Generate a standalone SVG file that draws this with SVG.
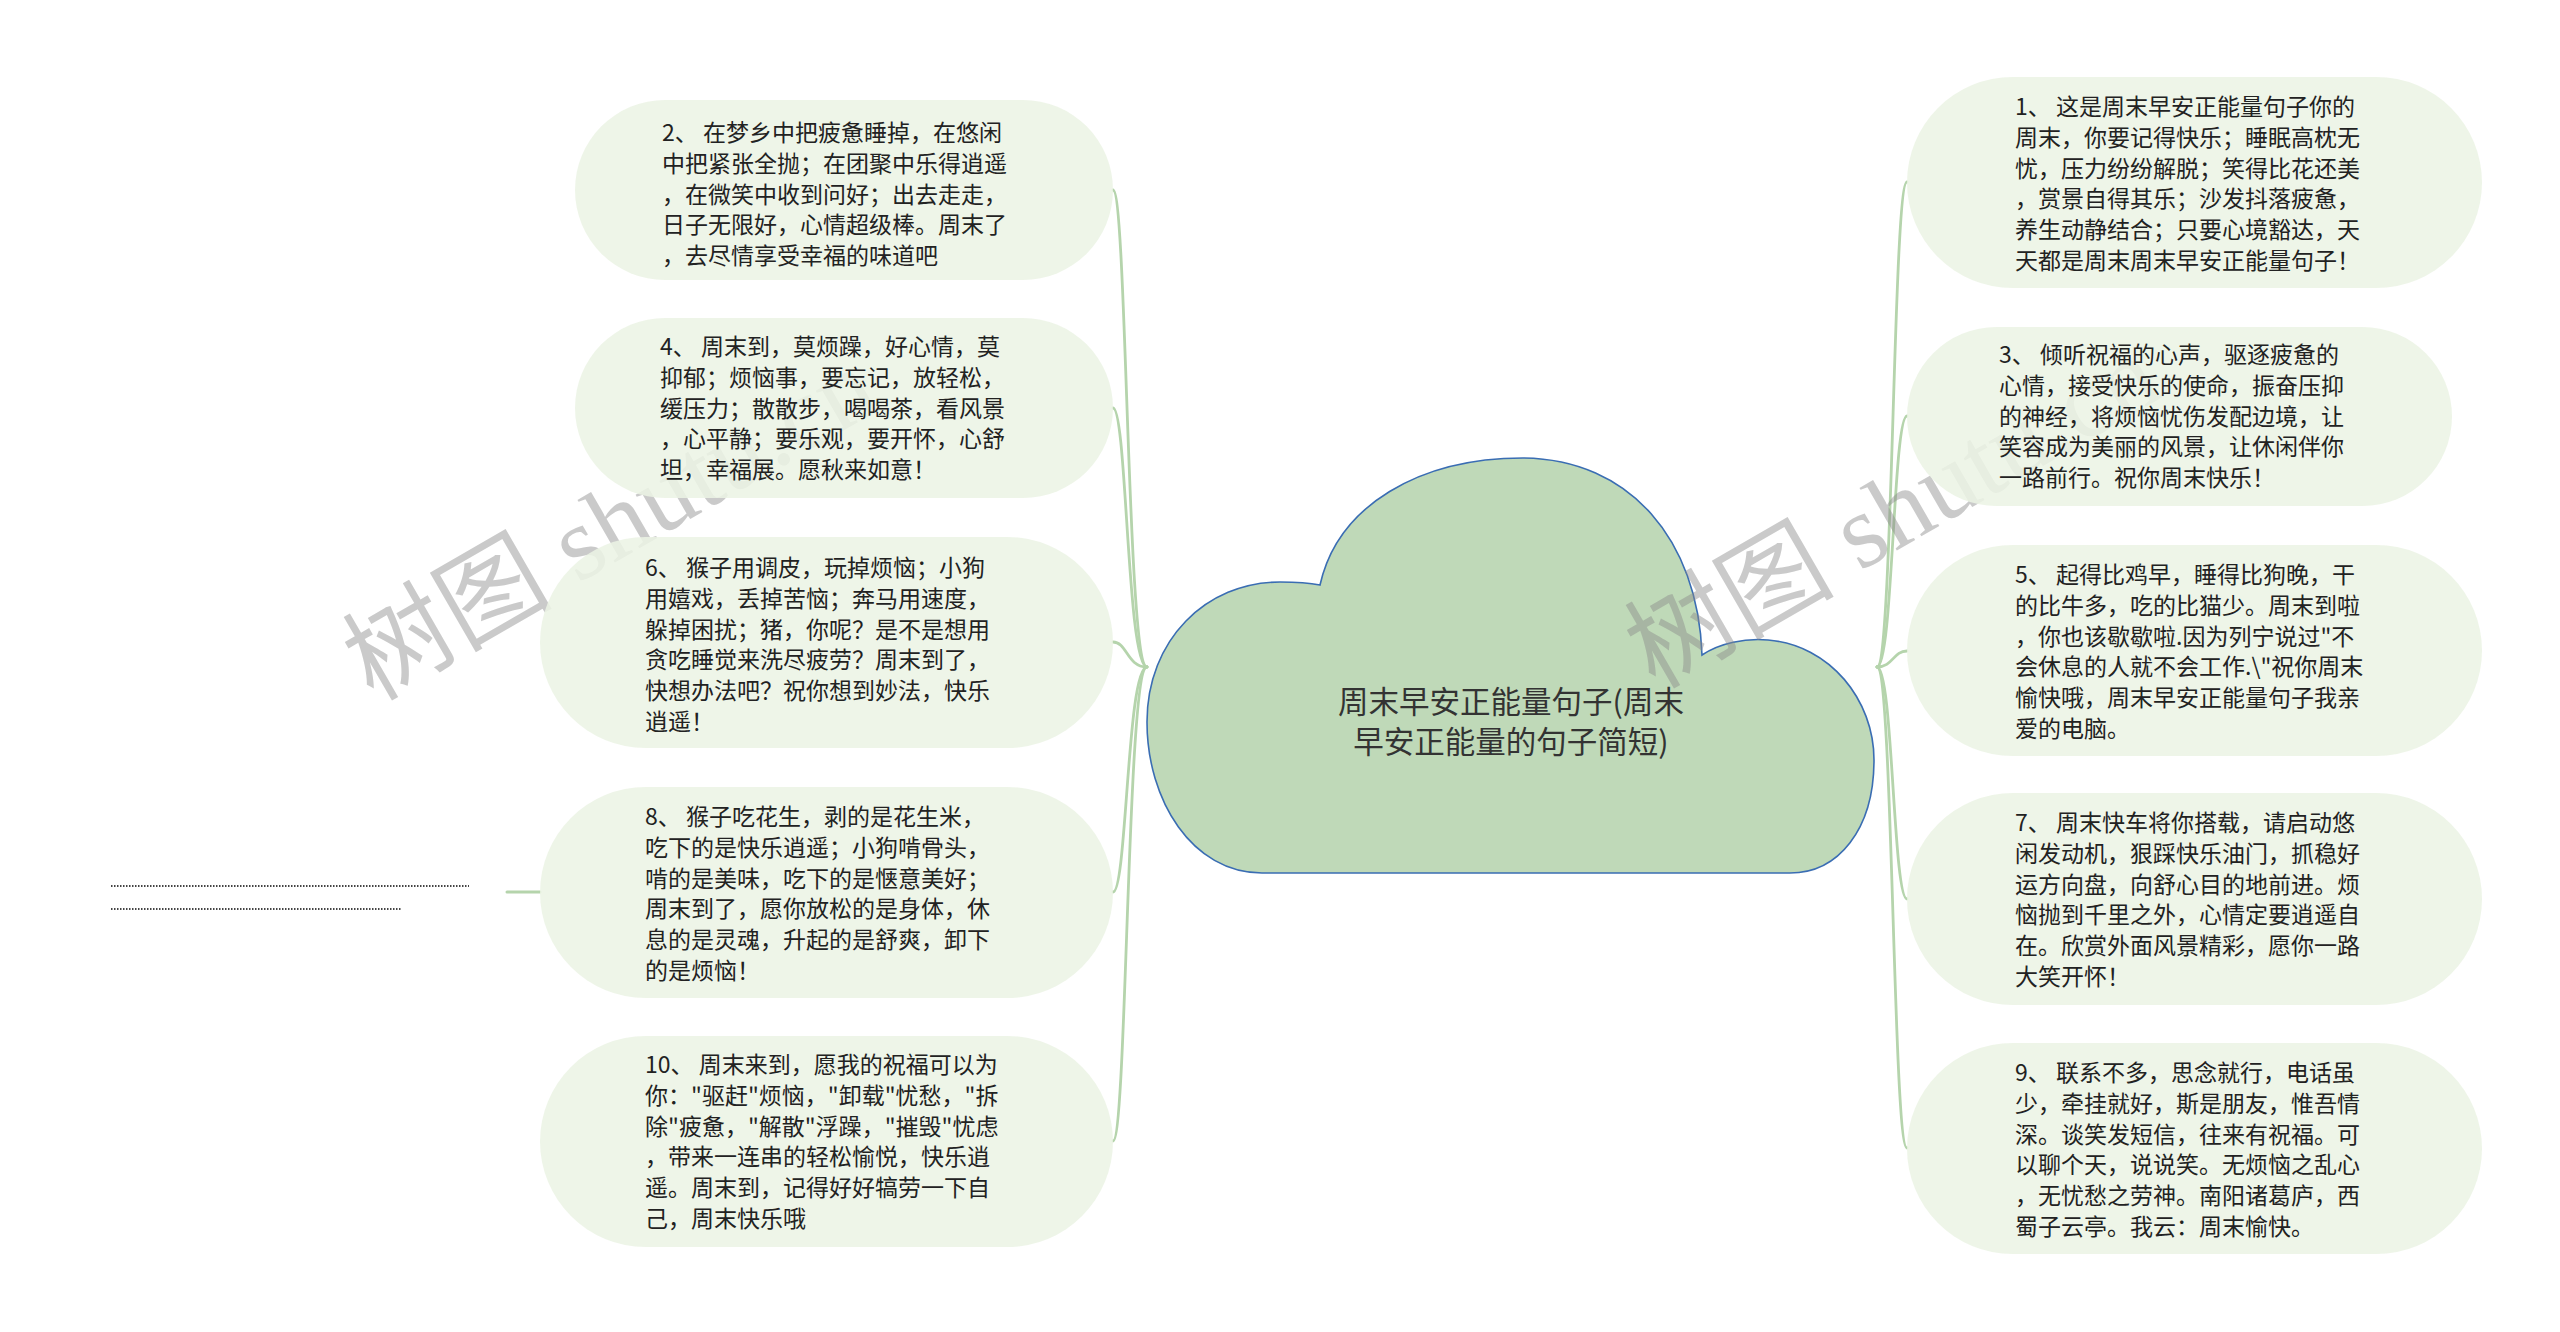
<svg xmlns="http://www.w3.org/2000/svg" width="2560" height="1332" viewBox="0 0 2560 1332">
<style>
.node rect{fill:#ebf3e4;fill-opacity:0.86;stroke:none}
.node text{font-family:"Noto Sans CJK SC","Noto Sans",sans-serif;font-size:23px;fill:#222}
.conn path{fill:none;stroke:#b5d4ac;stroke-width:2.8;stroke-linecap:round}
.wm{font-family:"Liberation Serif","Noto Sans CJK SC",serif;font-size:105px;fill:#8a8a8a;fill-opacity:0.45}
.dots line{stroke:#444;stroke-width:2;stroke-dasharray:1.5 1.5}
</style>
<rect width="2560" height="1332" fill="#ffffff"/>

<g id="connectors" class="conn">
  <path d="M1147,667 C1127,667 1127,190 1113,190"/>
  <path d="M1147,667 C1127,667 1127,408 1113,408"/>
  <path d="M1147,667 C1127,667 1127,642 1113,642"/>
  <path d="M1147,667 C1127,667 1127,892 1113,892"/>
  <path d="M1147,667 C1127,667 1127,1141 1113,1141"/>
  <path d="M1877,667 C1893,667 1893,182 1907,182"/>
  <path d="M1877,667 C1893,667 1893,416 1907,416"/>
  <path d="M1877,667 C1893,667 1893,651 1907,651"/>
  <path d="M1877,667 C1893,667 1893,899 1907,899"/>
  <path d="M1877,667 C1893,667 1893,1148 1907,1148"/>
  <path d="M540,892 L507,892" style="stroke-width:3"/>
</g>

<g id="root">
  <path d="M1320,585 C1338,505 1420,458 1523,458 C1630,459 1698,540 1702,655 C1720,643 1745,638 1768,640 C1830,645 1874,700 1874,760 C1874,830 1838,873 1790,873 L1262,873 C1192,873 1147,800 1147,722 C1147,640 1206,582 1280,582 C1296,582 1310,583 1320,585 Z" fill="#bfd9b8" stroke="#3a6db3" stroke-width="1.6"/>
  <text font-family="Noto Sans CJK SC,Noto Sans,sans-serif" font-size="30.5" fill="#333" text-anchor="middle"><tspan x="1511" y="713">周末早安正能量句子(周末</tspan><tspan x="1511" y="753">早安正能量的句子简短)</tspan></text>
</g>

<g id="watermark">
  <text class="wm" transform="translate(373,702) rotate(-30)">树图 shutu.cn</text>
  <text class="wm" transform="translate(1655,690) rotate(-30)">树图 shutu.cn</text>
</g>

<g id="n2" class="node">
  <rect x="575" y="100" width="538" height="180" rx="90"/>
  <text><tspan x="662" y="141">2、 在梦乡中把疲惫睡掉，在悠闲</tspan><tspan x="662" dy="30.8">中把紧张全抛；在团聚中乐得逍遥</tspan><tspan x="662" dy="30.8">，在微笑中收到问好；出去走走，</tspan><tspan x="662" dy="30.8">日子无限好，心情超级棒。周末了</tspan><tspan x="662" dy="30.8">，去尽情享受幸福的味道吧</tspan></text>
</g>
<g id="n4" class="node">
  <rect x="575" y="318" width="538" height="180" rx="90"/>
  <text><tspan x="660" y="355">4、 周末到，莫烦躁，好心情，莫</tspan><tspan x="660" dy="30.8">抑郁；烦恼事，要忘记，放轻松，</tspan><tspan x="660" dy="30.8">缓压力；散散步，喝喝茶，看风景</tspan><tspan x="660" dy="30.8">，心平静；要乐观，要开怀，心舒</tspan><tspan x="660" dy="30.8">坦，幸福展。愿秋来如意！</tspan></text>
</g>
<g id="n6" class="node">
  <rect x="540" y="537" width="573" height="211" rx="105.5"/>
  <text><tspan x="645" y="576">6、 猴子用调皮，玩掉烦恼；小狗</tspan><tspan x="645" dy="30.8">用嬉戏，丢掉苦恼；奔马用速度，</tspan><tspan x="645" dy="30.8">躲掉困扰；猪，你呢？是不是想用</tspan><tspan x="645" dy="30.8">贪吃睡觉来洗尽疲劳？周末到了，</tspan><tspan x="645" dy="30.8">快想办法吧？祝你想到妙法，快乐</tspan><tspan x="645" dy="30.8">逍遥！</tspan></text>
</g>
<g id="n8" class="node">
  <rect x="540" y="787" width="573" height="211" rx="105.5"/>
  <text><tspan x="645" y="825">8、 猴子吃花生，剥的是花生米，</tspan><tspan x="645" dy="30.8">吃下的是快乐逍遥；小狗啃骨头，</tspan><tspan x="645" dy="30.8">啃的是美味，吃下的是惬意美好；</tspan><tspan x="645" dy="30.8">周末到了，愿你放松的是身体，休</tspan><tspan x="645" dy="30.8">息的是灵魂，升起的是舒爽，卸下</tspan><tspan x="645" dy="30.8">的是烦恼！</tspan></text>
</g>
<g id="n8child" class="dots">
  <line x1="111" y1="886" x2="469" y2="886"/>
  <line x1="111" y1="909" x2="402" y2="909"/>
</g>
<g id="n10" class="node">
  <rect x="540" y="1036" width="573" height="211" rx="105.5"/>
  <text><tspan x="645" y="1073">10、 周末来到，愿我的祝福可以为</tspan><tspan x="645" dy="30.8">你："驱赶"烦恼，"卸载"忧愁，"拆</tspan><tspan x="645" dy="30.8">除"疲惫，"解散"浮躁，"摧毁"忧虑</tspan><tspan x="645" dy="30.8">，带来一连串的轻松愉悦，快乐逍</tspan><tspan x="645" dy="30.8">遥。周末到，记得好好犒劳一下自</tspan><tspan x="645" dy="30.8">己，周末快乐哦</tspan></text>
</g>

<g id="n1" class="node">
  <rect x="1907" y="77" width="575" height="211" rx="105.5"/>
  <text><tspan x="2015" y="115">1、 这是周末早安正能量句子你的</tspan><tspan x="2015" dy="30.8">周末，你要记得快乐；睡眠高枕无</tspan><tspan x="2015" dy="30.8">忧，压力纷纷解脱；笑得比花还美</tspan><tspan x="2015" dy="30.8">，赏景自得其乐；沙发抖落疲惫，</tspan><tspan x="2015" dy="30.8">养生动静结合；只要心境豁达，天</tspan><tspan x="2015" dy="30.8">天都是周末周末早安正能量句子！</tspan></text>
</g>
<g id="n3" class="node">
  <rect x="1907" y="327" width="545" height="179" rx="89.5"/>
  <text><tspan x="1999" y="363">3、 倾听祝福的心声，驱逐疲惫的</tspan><tspan x="1999" dy="30.8">心情，接受快乐的使命，振奋压抑</tspan><tspan x="1999" dy="30.8">的神经，将烦恼忧伤发配边境，让</tspan><tspan x="1999" dy="30.8">笑容成为美丽的风景，让休闲伴你</tspan><tspan x="1999" dy="30.8">一路前行。祝你周末快乐！</tspan></text>
</g>
<g id="n5" class="node">
  <rect x="1907" y="545" width="575" height="211" rx="105.5"/>
  <text><tspan x="2015" y="583">5、 起得比鸡早，睡得比狗晚，干</tspan><tspan x="2015" dy="30.8">的比牛多，吃的比猫少。周末到啦</tspan><tspan x="2015" dy="30.8">，你也该歇歇啦.因为列宁说过"不</tspan><tspan x="2015" dy="30.8">会休息的人就不会工作.\"祝你周末</tspan><tspan x="2015" dy="30.8">愉快哦，周末早安正能量句子我亲</tspan><tspan x="2015" dy="30.8">爱的电脑。</tspan></text>
</g>
<g id="n7" class="node">
  <rect x="1907" y="793" width="575" height="212" rx="106"/>
  <text><tspan x="2015" y="831">7、 周末快车将你搭载，请启动悠</tspan><tspan x="2015" dy="30.8">闲发动机，狠踩快乐油门，抓稳好</tspan><tspan x="2015" dy="30.8">运方向盘，向舒心目的地前进。烦</tspan><tspan x="2015" dy="30.8">恼抛到千里之外，心情定要逍遥自</tspan><tspan x="2015" dy="30.8">在。欣赏外面风景精彩，愿你一路</tspan><tspan x="2015" dy="30.8">大笑开怀！</tspan></text>
</g>
<g id="n9" class="node">
  <rect x="1907" y="1043" width="575" height="211" rx="105.5"/>
  <text><tspan x="2015" y="1081">9、 联系不多，思念就行，电话虽</tspan><tspan x="2015" dy="30.8">少，牵挂就好，斯是朋友，惟吾情</tspan><tspan x="2015" dy="30.8">深。谈笑发短信，往来有祝福。可</tspan><tspan x="2015" dy="30.8">以聊个天，说说笑。无烦恼之乱心</tspan><tspan x="2015" dy="30.8">，无忧愁之劳神。南阳诸葛庐，西</tspan><tspan x="2015" dy="30.8">蜀子云亭。我云：周末愉快。</tspan></text>
</g>
</svg>
